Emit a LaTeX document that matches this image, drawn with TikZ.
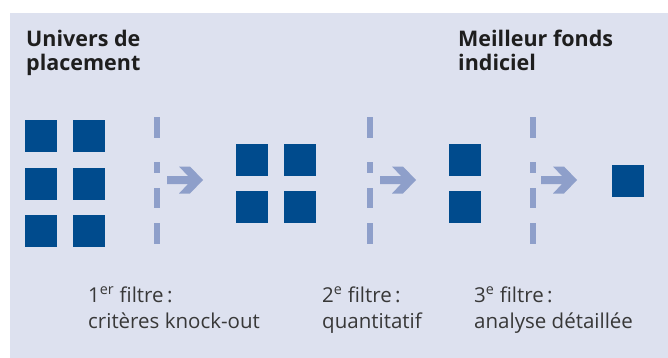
\documentclass[tikz,border=0pt]{standalone}
\usepackage{fontspec}
\setmainfont{Open Sans}
\definecolor{panel}{HTML}{DDE1EF}
\definecolor{sqblue}{HTML}{004B8D}
\definecolor{filterblue}{HTML}{8E9FCA}
\definecolor{titletext}{HTML}{1E1E1E}
\definecolor{labeltext}{HTML}{383838}
\begin{document}
\begin{tikzpicture}[x=1pt,y=-1pt,
  sq/.style={fill=sqblue, draw=none, minimum size=32pt, inner sep=0pt},
  bar/.style={fill=filterblue, draw=none},
  titlelbl/.style={anchor=base west, inner sep=0pt, text=titletext, font=\fontsize{21.5}{23}\selectfont\bfseries},
  filterlbl/.style={anchor=base west, inner sep=0pt, text=labeltext, font=\fontsize{20.5}{22}\selectfont}]
\useasboundingbox (0,0) rectangle (668,358);
\fill[panel] (10,13) rectangle (668,358);
% titles
\node[titlelbl] (t1a) at (26,47) {Univers de};
\node[titlelbl] (t1b) at (26,71) {placement};
\node[titlelbl] (t2a) at (458,47) {Meilleur fonds};
\node[titlelbl] (t2b) at (458,71) {indiciel};
% squares group 1
\foreach \c/\x in {a/41,b/89}{
  \foreach \r/\y in {1/136,2/184,3/231}{
    \node[sq] (g1\c\r) at (\x,\y) {};
  }
}
% group 2
\foreach \c/\x in {a/252,b/300}{
  \foreach \r/\y in {1/160,2/207}{
    \node[sq] (g2\c\r) at (\x,\y) {};
  }
}
% group 3
\node[sq] (g3a) at (465,160) {};
\node[sq] (g3b) at (465,207) {};
% final
\node[sq] (g4) at (628,181) {};
% filter dashed bars
\foreach \n/\x in {1/157,2/369.5,3/532.5}{
  \coordinate (f\n) at (\x,180);
  \foreach \ya/\yb in {117/138,162/173,188/208,223/244}{
    \fill[bar] (\x-3,\ya) rectangle (\x+3,\yb);
  }
}
% arrows
\foreach \n/\x in {1/167,2/380,3/541}{
  \coordinate (a\n) at (\x,180);
  \fill[bar] (a\n) ++(0,-4) -- ++(21,0) -- ++(-9,-9.5) -- ++(11,0) -- ++(13,13.5)
     -- ++(-13,13.5) -- ++(-11,0) -- ++(9,-9.5) -- ++(-21,0) -- cycle;
}
% filter labels
\node[filterlbl] (l1a) at (88,302) {1\textsuperscript{er} filtre\,:};
\node[filterlbl] (l1b) at (88,328) {critères knock-out};
\node[filterlbl] (l2a) at (322,302) {2\textsuperscript{e} filtre\,:};
\node[filterlbl] (l2b) at (322,328) {quantitatif};
\node[filterlbl] (l3a) at (474,302) {3\textsuperscript{e} filtre\,:};
\node[filterlbl] (l3b) at (474,328) {analyse détaillée};
\end{tikzpicture}
\end{document}
